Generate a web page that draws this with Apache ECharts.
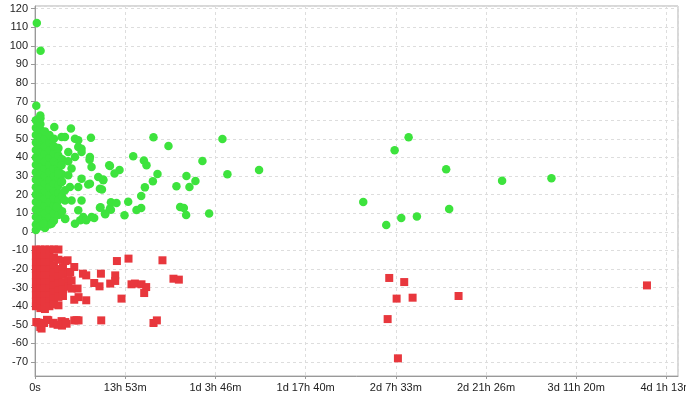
<!DOCTYPE html>
<html><head><meta charset="utf-8">
<script src="https://cdn.jsdelivr.net/npm/echarts@6/dist/echarts.min.js"></script>
<style>html,body{margin:0;padding:0;background:#fff}#c{width:686px;height:396px}</style>
</head><body><div id="c"></div>
<script>
// x values are durations in seconds, y values are the plotted quantity
var xTicks = [0, 50000, 100000, 150000, 200000, 250000, 300000, 350000];
var yTicks = [-70, -60, -50, -40, -30, -20, -10, 0, 10, 20, 30, 40, 50, 60, 70, 80, 90, 100, 110, 120];

var greenCluster = [
  [500,1],[500,4],[500,8],[500,12],[500,16],[500,20],[500,24],[500,28],[500,32],[500,36],[500,40],[500,44],[500,48],[500,52],[500,56],[500,60],
  [3000,3],[3000,7],[3000,11],[3000,15],[3000,19],[3000,23],[3000,27],[3000,31],[3000,35],[3000,39],[3000,43],[3000,47],[3000,51],[3000,55],[3000,58],[3000,61],
  [5500,2],[5500,6],[5500,10],[5500,14],[5500,18],[5500,22],[5500,26],[5500,30],[5500,34],[5500,38],[5500,42],[5500,46],[5500,50],[5500,54],
  [8000,4],[8000,8],[8000,12],[8000,16],[8000,20],[8000,24],[8000,28],[8000,32],[8000,36],[8000,40],[8000,44],[8000,48],[8000,52],
  [10500,6],[10500,10],[10500,14],[10500,18],[10500,22],[10500,26],[10500,30],[10500,34],[10500,38],[10500,42],[10500,46],[10500,50],
  [13000,9],[13000,13],[13000,17],[13000,21],[13000,25],[13000,29],[13000,33],[13000,37],[13000,41],[13000,45],
  [15000,11],[15000,19],[15000,27],[15000,31],[15000,39]
];
var greenScatter = [
  [1000,112.3],[3100,97.4],[720,67.8],[2930,62.6],[10690,56.3],[19930,55.5],[14730,51.0],[16610,51.0],
  [22150,50.1],[23980,49.2],[31010,50.6],[23980,45.6],[25800,44.7],[18440,42.9],[22150,40.2],[30450,40.2],
  [30250,38.8],[41140,35.8],[20270,34.0],[31340,34.8],[35050,29.5],[37820,27.7],[25800,28.6],[30450,25.9],
  [23980,24.1],[19380,24.1],[14730,26.8],[18440,30.4],[12900,31.3],[35990,23.2],[35990,13.0],[41530,12.5],
  [38760,9.8],[31340,8.0],[26740,8.0],[22150,4.4],[16610,7.1],[23980,11.6],[20270,16.9],[25800,16.9],
  [16610,16.9],[11960,13.3],[9190,4.4],[4600,4.4],[16610,22.3],[14730,35.8],[25800,42.9],[18440,38.0],
  [32800,7.5],[25080,6.2],[28400,6.2],[29500,25.5],[16780,6.9],
  [65670,50.8],[73980,46.1],[103900,49.9],[54430,40.6],[60350,38.4],[61800,35.8],[92800,38.1],[41530,35.4],
  [46850,33.2],[44080,31.3],[67890,31.1],[106650,30.9],[124200,33.2],[37820,28.1],[83940,30.0],[65330,27.2],
  [88920,27.3],[60900,23.9],[78400,24.5],[85600,24.1],[37100,22.7],[58860,19.2],[51660,16.2],[42080,15.9],
  [45180,15.5],[80450,13.3],[82500,12.8],[83780,9.0],[96510,9.8],[58860,12.8],[56250,11.7],[42080,11.9],
  [38930,9.4],[49610,8.9],[36320,13.2],
  [207080,50.8],[199330,43.8],[227900,33.6],[258900,27.5],[286260,28.8],[181950,16.0],[229560,12.3],
  [211680,8.3],[203000,7.4],[194680,3.7]
];
var redCluster = [
  [500,-9.5],[500,-13],[500,-16.5],[500,-20],[500,-23.5],[500,-27],[500,-30.5],[500,-34],[500,-37.5],[500,-40],
  [3000,-9.5],[3000,-13],[3000,-16.5],[3000,-20],[3000,-23.5],[3000,-27],[3000,-30.5],[3000,-34],[3000,-37.5],[3000,-41],
  [5500,-9.5],[5500,-13],[5500,-16.5],[5500,-20],[5500,-23.5],[5500,-27],[5500,-30.5],[5500,-34],[5500,-37.5],[5500,-41.5],
  [8000,-9.5],[8000,-13],[8000,-16.5],[8000,-20],[8000,-23.5],[8000,-27],[8000,-30.5],[8000,-34],[8000,-37.5],[8000,-40],
  [10500,-9.5],[10500,-14],[10500,-18],[10500,-22],[10500,-25.5],[10500,-29],[10500,-32.5],[10500,-36],[10500,-39],
  [13000,-9.5],[13000,-15],[13000,-20],[13000,-24],[13000,-28],[13000,-31.5],[13000,-35],[13000,-39.5],
  [15500,-19],[15500,-23],[15500,-27],[15500,-31],[15500,-34.5],
  [18500,-22],[18500,-26],[18500,-29.5]
];
var redScatter = [
  [720,-48.5],[1830,-48.8],[2930,-51.2],[3650,-52],[6640,-47.3],[7360,-47.5],[10130,-49.4],[10300,-48.9],
  [14950,-50.4],[14730,-48],[16780,-48.5],[17500,-49.4],[21760,-47.6],[23030,-47.5],[24140,-47.6],[5000,-49],[12500,-50],
  [36710,-47.6],[65670,-49],[67550,-47.6],
  [45400,-15.7],[51830,-14.4],[70650,-15.3],[26580,-22.5],[28400,-23.4],[36540,-22.5],[32830,-27.5],[35770,-29.3],
  [41690,-27.8],[44460,-23.4],[44460,-26.4],[53490,-28.2],[55370,-27.8],[59020,-28.2],[61620,-29.7],[60520,-32.9],
  [76740,-25.2],[79730,-25.7],[47950,-35.9],[28400,-36.8],[24140,-35.1],[21760,-36.5],[23590,-30.5],[16780,-15.7],
  [21760,-18.9],[19500,-21.6],[18050,-15.3],[20270,-26.1],[20270,-30.5],
  [196340,-24.8],[204650,-27.0],[200440,-35.9],[209300,-35.4],[234770,-34.5],[339200,-28.8],[195460,-46.9],[201160,-68.0]
];

function fmtDur(v) {
  if (v === 0) return '0s';
  var d = Math.floor(v / 86400), h = Math.floor((v % 86400) / 3600), m = Math.floor((v % 3600) / 60);
  var p = [];
  if (d) p.push(d + 'd');
  if (d || h) p.push(h + 'h');
  p.push(m + 'm');
  return p.join(' ');
}

var font = 'Liberation Sans, Arial, sans-serif';
var chart = echarts.init(document.getElementById('c'), null, {renderer: 'canvas'});
var green = '#3de33d', red = '#e8373d';
chart.setOption({
  animation: false,
  backgroundColor: '#fff',
  grid: {left: 35, right: 8, top: 6, bottom: 20, show: true, borderColor: '#b0b0b0', borderWidth: 1,
    containLabel: false, outerBoundsMode: 'none'},
  xAxis: {
    type: 'value', min: xTicks[0], max: 356400, interval: xTicks[1] - xTicks[0],
    axisLine: {show: true, onZero: false, lineStyle: {color: '#999', width: 1}},
    axisTick: {show: true, length: 3, lineStyle: {color: '#999'}},
    axisLabel: {color: '#222', fontSize: 11, fontFamily: font, margin: 6, showMaxLabel: false, hideOverlap: false,
      formatter: function (v) { return xTicks.indexOf(v) >= 0 ? fmtDur(v) : ''; }},
    splitLine: {show: true, lineStyle: {color: '#ddd', type: [3, 3], width: 1}}
  },
  yAxis: {
    type: 'value', min: -77.5, max: 121.4, splitNumber: 20, minInterval: 10, maxInterval: 10,
    axisLine: {show: true, onZero: false, lineStyle: {color: '#999', width: 1}},
    axisTick: {show: true, length: 4, lineStyle: {color: '#999'}},
    axisLabel: {color: '#222', fontSize: 11, fontFamily: font, margin: 7, showMinLabel: false, showMaxLabel: false,
      formatter: function (v) { return yTicks.indexOf(v) >= 0 ? String(v) : ''; }},
    splitLine: {show: true, lineStyle: {color: '#ddd', type: [3, 3], width: 1}}
  },
  series: [
    {type: 'scatter', symbol: 'rect', symbolSize: 8, clip: false, data: redCluster, itemStyle: {color: red, opacity: 1}},
    {type: 'scatter', symbol: 'rect', symbolSize: 8, clip: false, data: redScatter, itemStyle: {color: red, opacity: 1}},
    {type: 'scatter', symbol: 'circle', symbolSize: 8.5, clip: false, data: greenCluster, itemStyle: {color: green, opacity: 1}},
    {type: 'scatter', symbol: 'circle', symbolSize: 8.5, clip: false, data: greenScatter, itemStyle: {color: green, opacity: 1}}
  ]
});
</script></body></html>
